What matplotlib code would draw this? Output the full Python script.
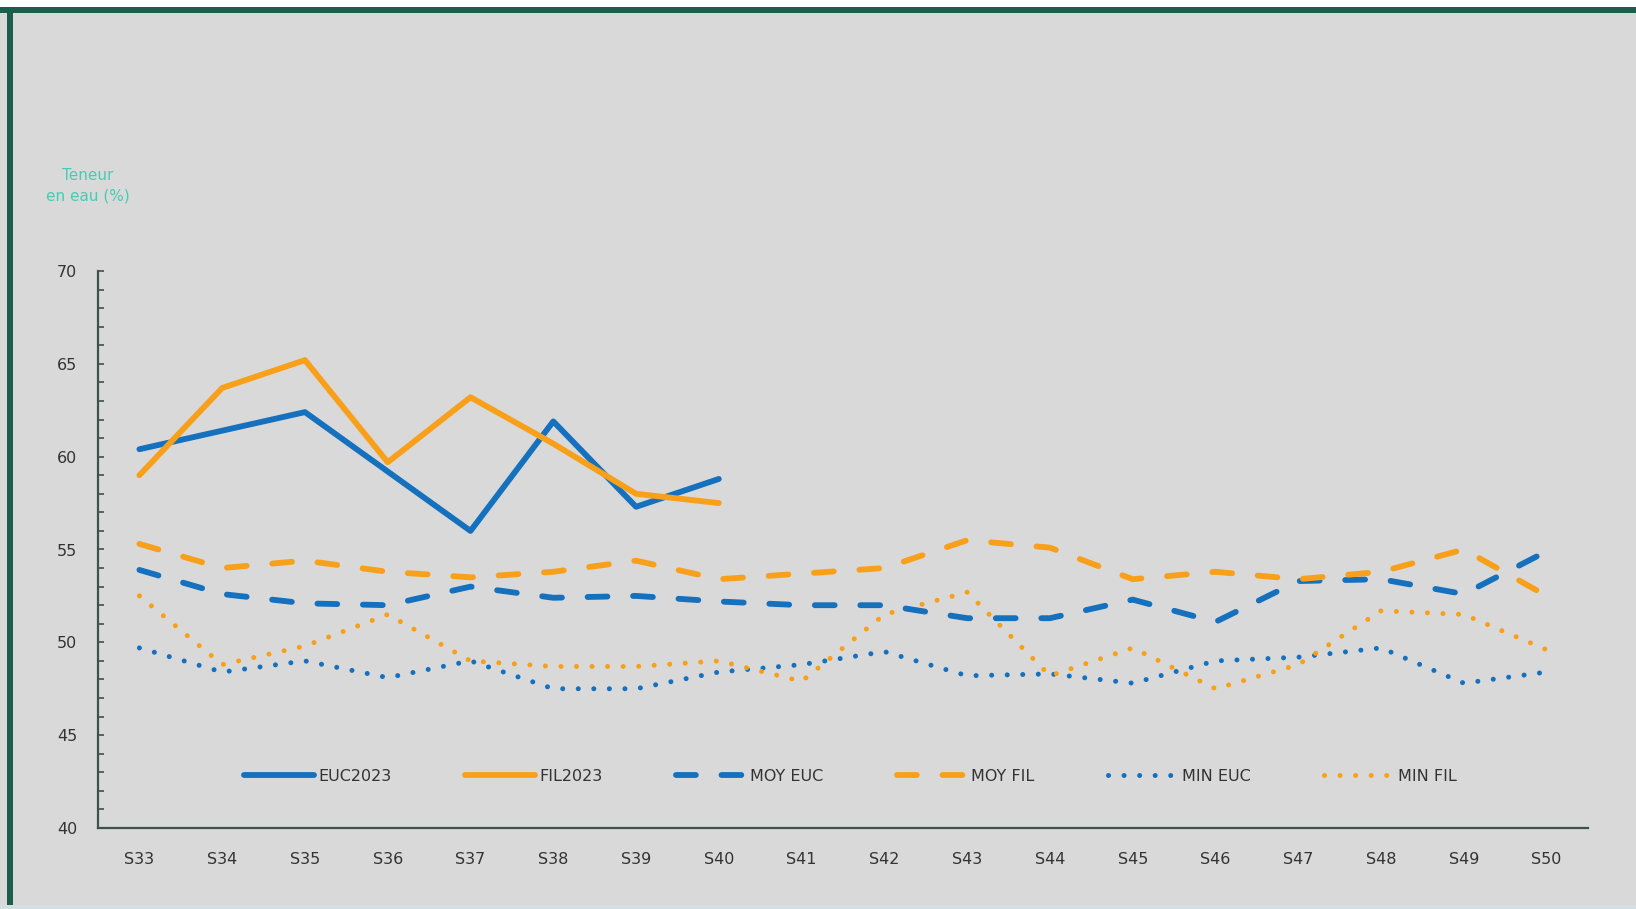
import matplotlib
matplotlib.use("Agg")
import matplotlib.pyplot as plt
from matplotlib.patches import Rectangle
from matplotlib.ticker import MultipleLocator

weeks = ["S33", "S34", "S35", "S36", "S37", "S38", "S39", "S40", "S41",
         "S42", "S43", "S44", "S45", "S46", "S47", "S48", "S49", "S50"]

euc2023 = [60.4, 61.4, 62.4, 59.2, 56.0, 61.9, 57.3, 58.8]
fil2023 = [59.0, 63.7, 65.2, 59.7, 63.2, 60.7, 58.0, 57.5]

moy_euc = [53.9, 52.6, 52.1, 52.0, 53.0, 52.4, 52.5, 52.2, 52.0,
           52.0, 51.3, 51.3, 52.3, 51.1, 53.3, 53.4, 52.6, 54.9]
moy_fil = [55.3, 54.0, 54.4, 53.8, 53.5, 53.8, 54.4, 53.4, 53.7,
           54.0, 55.5, 55.1, 53.4, 53.8, 53.4, 53.8, 55.0, 52.5]
min_euc = [49.7, 48.4, 49.0, 48.1, 49.0, 47.5, 47.5, 48.4, 48.8,
           49.5, 48.2, 48.3, 47.8, 49.0, 49.2, 49.7, 47.8, 48.4]
min_fil = [52.5, 48.8, 49.8, 51.5, 49.0, 48.7, 48.7, 49.0, 47.9,
           51.5, 52.7, 48.2, 49.7, 47.5, 48.8, 51.7, 51.5, 49.6]

BLUE = "#1570BE"
ORANGE = "#F9A01B"
BG = "#D9D9D9"
GREEN = "#1C5E4B"
AXC = "#3C524B"

W, H = 1636, 909
fig = plt.figure(figsize=(W / 100, H / 100), dpi=100, facecolor=BG)

# frame decorations (figure pixel -> fraction)
def rect(x0, y0, x1, y1, color):
    fig.patches.append(Rectangle((x0 / W, 1 - y1 / H), (x1 - x0) / W, (y1 - y0) / H,
                                 transform=fig.transFigure, facecolor=color,
                                 edgecolor="none", zorder=0))

rect(0, 0, W, 7, "white")
rect(0, 7, W, 12.5, GREEN)
rect(7, 7, 13, H - 4, GREEN)
rect(0, H - 4, W, H, "#D3E0E2")

ax = fig.add_axes([98 / W, 1 - 828 / H, (1588 - 98) / W, (828 - 271) / H])
ax.set_facecolor(BG)

x = list(range(len(weeks)))
n23 = len(euc2023)

ax.plot(x[:n23], euc2023, color=BLUE, lw=4.2, solid_joinstyle="round",
        solid_capstyle="round", label="EUC2023", zorder=5)
ax.plot(x[:n23], fil2023, color=ORANGE, lw=4.2, solid_joinstyle="round",
        solid_capstyle="round", label="FIL2023", zorder=5)
ax.plot(x, moy_euc, color=BLUE, lw=4.2, dashes=(3.4, 4.4),
        dash_capstyle="round", label="MOY EUC", zorder=4)
ax.plot(x, moy_fil, color=ORANGE, lw=4.2, dashes=(3.4, 4.4),
        dash_capstyle="round", label="MOY FIL", zorder=4)
ax.plot(x, min_euc, color=BLUE, lw=3.6, dashes=(0.01, 3.1),
        dash_capstyle="round", label="MIN EUC", zorder=3)
ax.plot(x, min_fil, color=ORANGE, lw=3.6, dashes=(0.01, 3.1),
        dash_capstyle="round", label="MIN FIL", zorder=3)

ax.set_xlim(-0.5, len(weeks) - 0.5)
ax.set_ylim(40, 70)
ax.set_xticks(x)
ax.set_xticklabels(weeks)
ax.yaxis.set_major_locator(MultipleLocator(5))
ax.yaxis.set_minor_locator(MultipleLocator(1))

for s in ["top", "right"]:
    ax.spines[s].set_visible(False)
for s in ["left", "bottom"]:
    ax.spines[s].set_color(AXC)
    ax.spines[s].set_linewidth(1.6)

ax.tick_params(axis="x", length=0, pad=17, labelsize=11.5, labelcolor="#333333")
ax.tick_params(axis="y", which="major", direction="in", length=4, width=1.2,
               color=AXC, pad=15, labelsize=11.5, labelcolor="#333333")
ax.tick_params(axis="y", which="minor", direction="in", length=4, width=1.2,
               color=AXC)

fig.text(88 / W, 1 - 186 / H, "Teneur\nen eau (%)", ha="center", va="center",
         fontsize=11, color="#45CDB3", linespacing=1.45)

leg = ax.legend(loc="center", bbox_to_anchor=(0.505, 0.093), ncol=6,
                frameon=False, fontsize=11.5, handlelength=4.4,
                handletextpad=0.25, columnspacing=4.6)
for t in leg.get_texts():
    t.set_color("#333333")

fig.savefig("out.png", dpi=100, facecolor=BG)
